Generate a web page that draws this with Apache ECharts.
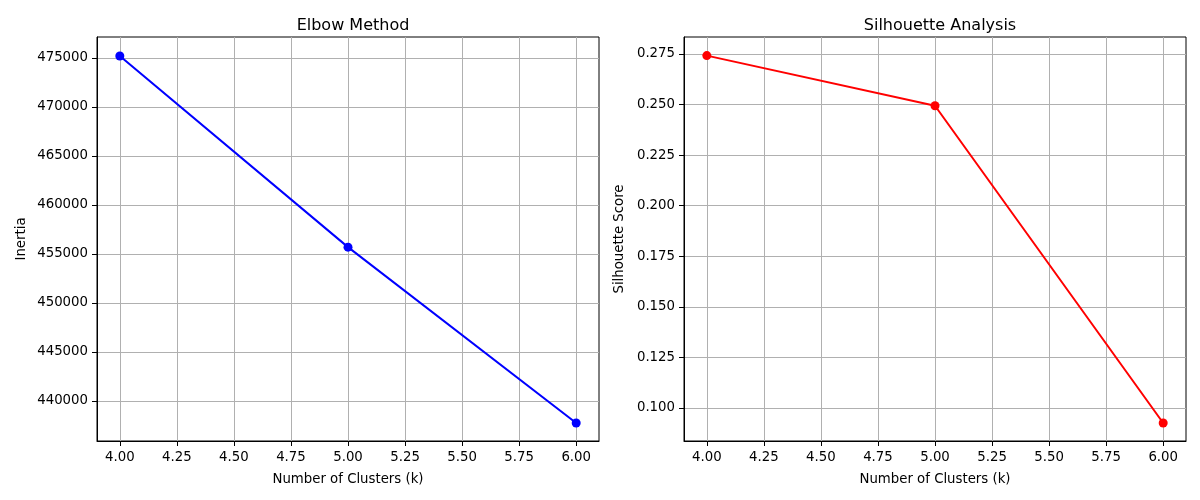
<!DOCTYPE html>
<html>
<head>
<meta charset="utf-8">
<script src="https://cdn.jsdelivr.net/npm/echarts@6/dist/echarts.min.js"></script>
<style>
html, body { margin: 0; padding: 0; background: #fff; }
#chart { width: 1200px; height: 500px; }
</style>
</head>
<body>
<div id="chart"></div>
<script>
var dom = document.getElementById("chart");
var myChart = echarts.init(dom);

// data
var kValues = [4, 5, 6];
var inertia = [475200, 455700, 437750];
var silhouette = [0.2742, 0.2494, 0.0926];
var xTicks = [4.00, 4.25, 4.50, 4.75, 5.00, 5.25, 5.50, 5.75, 6.00];
var inertiaTicks = [440000, 445000, 450000, 455000, 460000, 465000, 470000, 475000];
var silTicks = [0.100, 0.125, 0.150, 0.175, 0.200, 0.225, 0.250, 0.275];

var font = 'DejaVu Sans';

function pairs(xs, ys) {
    return xs.map(function (x, i) { return [x, ys[i]]; });
}

function xAxis(idx) {
    return {
        type: 'value', gridIndex: idx, min: 3.9, max: 6.1,
        name: 'Number of Clusters (k)', nameLocation: 'middle', nameGap: 32,
        nameTextStyle: { color: '#000', fontSize: 13.3, fontFamily: font },
        axisLine: { show: true, onZero: false, lineStyle: { color: '#000', width: 1 } },
        axisTick: { show: true, length: 5, customValues: xTicks, lineStyle: { color: '#000' } },
        axisLabel: {
            customValues: xTicks, color: '#000', fontSize: 13.3, fontFamily: font, margin: 10,
            formatter: function (v) { return v.toFixed(2); }
        },
        splitLine: { show: true, lineStyle: { color: '#b0b0b0', width: 1 } }
    };
}

function yAxis(idx, min, max, ticks, name, gap, dec) {
    return {
        type: 'value', gridIndex: idx, min: min, max: max,
        name: name, nameLocation: 'middle', nameGap: gap,
        nameTextStyle: { color: '#000', fontSize: 13.3, fontFamily: font },
        axisLine: { show: true, onZero: false, lineStyle: { color: '#000', width: 1 } },
        axisTick: { show: true, length: 5, customValues: ticks, lineStyle: { color: '#000' } },
        axisLabel: {
            customValues: ticks, color: '#000', fontSize: 13.3, fontFamily: font, margin: 9,
            formatter: function (v) { return v.toFixed(dec); }
        },
        splitLine: { show: true, lineStyle: { color: '#b0b0b0', width: 1 } }
    };
}

var option = {
    animation: false,
    backgroundColor: '#fff',
    title: [{
        text: 'Elbow Method', left: 348, top: 13, textAlign: 'center',
        textStyle: { fontSize: 16, fontWeight: 'normal', color: '#000', fontFamily: font }
    }, {
        text: 'Silhouette Analysis', left: 935, top: 13, textAlign: 'center',
        textStyle: { fontSize: 16, fontWeight: 'normal', color: '#000', fontFamily: font }
    }],
    grid: [
        { left: 97, width: 502, top: 37, height: 404, show: true, borderColor: '#000', borderWidth: 1, backgroundColor: 'transparent' },
        { left: 684, width: 502, top: 37, height: 404, show: true, borderColor: '#000', borderWidth: 1, backgroundColor: 'transparent' }
    ],
    xAxis: [xAxis(0), xAxis(1)],
    yAxis: [
        yAxis(0, 435918, 477143, inertiaTicks, 'Inertia', 69, 0),
        yAxis(1, 0.0837, 0.2834, silTicks, 'Silhouette Score', 58, 3)
    ],
    series: [{
        type: 'line', xAxisIndex: 0, yAxisIndex: 0,
        data: pairs(kValues, inertia),
        symbol: 'circle', symbolSize: 9,
        lineStyle: { color: '#0000ff', width: 2 },
        itemStyle: { color: '#0000ff' }
    }, {
        type: 'line', xAxisIndex: 1, yAxisIndex: 1,
        data: pairs(kValues, silhouette),
        symbol: 'circle', symbolSize: 9,
        lineStyle: { color: '#ff0000', width: 2 },
        itemStyle: { color: '#ff0000' }
    }]
};

myChart.setOption(option, true);
</script>
</body>
</html>
